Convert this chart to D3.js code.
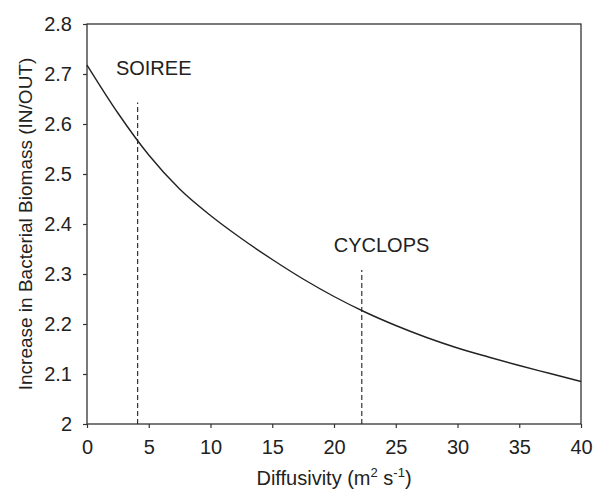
<!doctype html>
<html>
<head>
<meta charset="UTF-8">
<script src="https://d3js.org/d3.v7.min.js"></script>
<style>
  body { margin: 0; background: #fff; }
  text { font-family: "Liberation Sans", Arial, sans-serif; fill: #222; }
</style>
</head>
<body>
<script>
// diffusivity (m2 s-1) and the increase in bacterial biomass
var diffusivity = [0, 2.5, 5, 7.5, 10, 12.5, 15, 17.5, 20, 22.5, 25, 27.5, 30, 32.5, 35, 37.5, 40];
var biomass = [2.718, 2.622, 2.538, 2.470, 2.417, 2.371, 2.329, 2.290, 2.255, 2.224, 2.197, 2.173, 2.152, 2.134, 2.117, 2.101, 2.085];

// the two experiments marked with dashed lines
var sites = ["SOIREE", "CYCLOPS"];
var siteX = [4.1, 22.25];
var siteTop = [2.643, 2.308];
var labelX = [5.4, 23.85];
var labelY = [2.699, 2.344];

var xTicks = [0, 5, 10, 15, 20, 25, 30, 35, 40];
var yTicks = [2, 2.1, 2.2, 2.3, 2.4, 2.5, 2.6, 2.7, 2.8];

var W = 597, H = 491;
var m = {top: 24, right: 16, bottom: 67, left: 87};
var w = W - m.left - m.right, h = H - m.top - m.bottom;

var svg = d3.select("body").append("svg")
  .attr("width", W).attr("height", H);

var g = svg.append("g").attr("transform", "translate(" + m.left + "," + m.top + ")");

var x = d3.scaleLinear().domain([0, 40]).range([0, w]);
var y = d3.scaleLinear().domain([2, 2.8]).range([h, 0]);

// frame
g.append("rect").attr("width", w).attr("height", h)
  .attr("fill", "none").attr("stroke", "#333").attr("stroke-width", 1.3);

var xAxis = g.append("g").attr("transform", "translate(0," + h + ")")
  .call(d3.axisBottom(x).tickValues(xTicks).tickSize(4).tickPadding(12).tickFormat(d3.format("d")));
var yAxis = g.append("g")
  .call(d3.axisLeft(y).tickValues(yTicks).tickSize(4).tickPadding(11).tickFormat(function(d) { return d3.format("~g")(d); }));

[xAxis, yAxis].forEach(function(a) {
  a.select(".domain").remove();
  a.selectAll("line").attr("stroke", "#333").attr("stroke-width", 1.2);
  a.selectAll("text").attr("font-size", 20).attr("fill", "#222")
    .style("font-family", "'Liberation Sans', Arial, sans-serif");
});

// dashed markers
g.selectAll(".site").data(sites).enter().append("line")
  .attr("x1", function(d, i) { return x(siteX[i]); })
  .attr("x2", function(d, i) { return x(siteX[i]); })
  .attr("y1", y(2))
  .attr("y2", function(d, i) { return y(siteTop[i]); })
  .attr("stroke", "#222").attr("stroke-width", 1.1).attr("stroke-dasharray", "5,3");

g.selectAll(".lbl").data(sites).enter().append("text")
  .attr("x", function(d, i) { return x(labelX[i]); })
  .attr("y", function(d, i) { return y(labelY[i]); })
  .attr("text-anchor", "middle").attr("font-size", 20)
  .text(function(d) { return d; });

// curve
var line = d3.line()
  .x(function(d, i) { return x(diffusivity[i]); })
  .y(function(d) { return y(d); })
  .curve(d3.curveMonotoneX);

g.append("path").datum(biomass)
  .attr("d", line).attr("fill", "none")
  .attr("stroke", "#222").attr("stroke-width", 1.4);

// axis titles
var xt = svg.append("text")
  .attr("x", m.left + w / 2).attr("y", 485)
  .attr("text-anchor", "middle").attr("font-size", 20);
xt.append("tspan").text("Diffusivity (m");
xt.append("tspan").attr("font-size", 13).attr("dy", -8).text("2");
xt.append("tspan").attr("dy", 8).text(" s");
xt.append("tspan").attr("font-size", 13).attr("dy", -8).text("-1");
xt.append("tspan").attr("dy", 8).text(")");

svg.append("text")
  .attr("transform", "translate(32," + (m.top + h / 2) + ") rotate(-90)")
  .attr("text-anchor", "middle").attr("font-size", 19)
  .text("Increase in Bacterial Biomass (IN/OUT)");
</script>
</body>
</html>
